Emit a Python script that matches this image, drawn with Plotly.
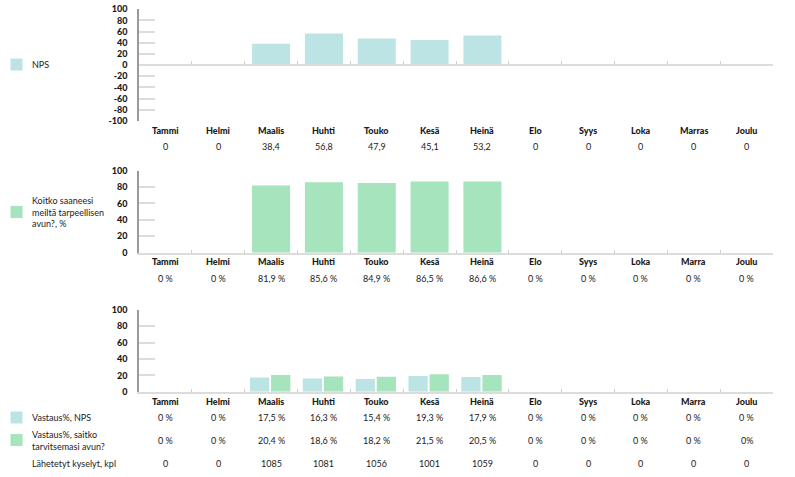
import plotly.graph_objects as go

months = ["Tammi", "Helmi", "Maalis", "Huhti", "Touko", "Kesä", "Heinä", "Elo", "Syys", "Loka", "Marras", "Joulu"]
months_short = ["Tammi", "Helmi", "Maalis", "Huhti", "Touko", "Kesä", "Heinä", "Elo", "Syys", "Loka", "Marra", "Joulu"]

nps = [0, 0, 38.4, 56.8, 47.9, 45.1, 53.2, 0, 0, 0, 0, 0]
help_pct = [0, 0, 81.9, 85.6, 84.9, 86.5, 86.6, 0, 0, 0, 0, 0]
resp_nps = [0, 0, 17.5, 16.3, 15.4, 19.3, 17.9, 0, 0, 0, 0, 0]
resp_help = [0, 0, 20.4, 18.6, 18.2, 21.5, 20.5, 0, 0, 0, 0, 0]
sent = [0, 0, 1085, 1081, 1056, 1001, 1059, 0, 0, 0, 0, 0]

nps_ticks = [100, 80, 60, 40, 20, 0, -20, -40, -60, -80, -100]
nps_tick_labels = ["100", "80", "60", "40", "20", "0", "-20", "-40", "-60", "-80", "-100"]

TEAL = "#bde4e4"
GREEN = "#a5e4bc"
FONT = "Lato"
W, H = 795, 477


def num(v):
    s = ("%.1f" % v).replace(".", ",")
    return "0" if v == 0 else s


def pct(v):
    return num(v) + " %"


nps_labels = [num(v) for v in nps]
help_labels = [pct(v) for v in help_pct]
resp_nps_labels = [pct(v) for v in resp_nps]
resp_help_labels = [pct(v) for v in resp_help]
resp_help_labels[-1] = "0%"
sent_labels = [str(v) for v in sent]


def py(px):
    return 1 - px / H


XD = [139 / W, 773 / W]
doms = {
    1: [py(121), py(9.3)],
    2: [py(252.7), py(170.5)],
    3: [py(391.7), py(310)],
}

fig = go.Figure()

fig.add_trace(go.Bar(x=months, y=nps, marker_color=TEAL, width=0.72,
                     marker_line_width=0, xaxis="x", yaxis="y", showlegend=False, hoverinfo="skip"))
fig.add_trace(go.Bar(x=months, y=help_pct, marker_color=GREEN, width=0.72,
                     marker_line_width=0, xaxis="x2", yaxis="y2", showlegend=False, hoverinfo="skip"))
fig.add_trace(go.Bar(x=months, y=resp_nps, marker_color=TEAL, width=0.365, offset=-0.40,
                     marker_line_width=0, xaxis="x3", yaxis="y3", showlegend=False, hoverinfo="skip"))
fig.add_trace(go.Bar(x=months, y=resp_help, marker_color=GREEN, width=0.365, offset=0.0,
                     marker_line_width=0, xaxis="x3", yaxis="y3", showlegend=False, hoverinfo="skip"))

yfont = dict(family=FONT, size=9, color="#1a1a1a", weight=900)
common_y = dict(showgrid=False, zeroline=False, showline=True, linecolor="#9a9a9a", linewidth=1.5,
                ticks="inside", ticklen=16, tickcolor="#dcdcdc", tickwidth=1.5,
                tickfont=yfont, fixedrange=True, automargin=False, ticklabelstandoff=8)

fig.update_layout(
    width=W, height=H, margin=dict(l=0, r=0, t=0, b=0, pad=0),
    paper_bgcolor="white", plot_bgcolor="white", barmode="overlay",
    font=dict(family=FONT, size=9, color="#222"),
    yaxis=dict(domain=doms[1], range=[-100, 100], tickmode="array", tickvals=nps_ticks,
               ticktext=nps_tick_labels, **common_y),
    yaxis2=dict(domain=doms[2], range=[0, 100], dtick=20, anchor="x2", **common_y),
    yaxis3=dict(domain=doms[3], range=[0, 100], dtick=20, anchor="x3", **common_y),
)

zero1 = doms[1][0] + (doms[1][1] - doms[1][0]) / 2
common_x = dict(domain=XD, type="category", categoryorder="array", categoryarray=months,
                range=[-0.5, 11.5], showgrid=False, zeroline=False, showline=True,
                linecolor="#dcdcdc", linewidth=1.5, ticks="inside", ticklen=3,
                tickcolor="#cfcfcf", tickson="boundaries", showticklabels=False, fixedrange=True,
                automargin=False)
fig.update_layout(
    xaxis=dict(anchor="free", position=zero1, **common_x),
    xaxis2=dict(anchor="y2", **common_x),
    xaxis3=dict(anchor="y3", **common_x),
)

anns = []


def row(xref, labels, ypx, bold=False, size=9):
    for m, t in zip(months, labels):
        anns.append(dict(x=m, xref=xref, y=py(ypx), yref="paper", text=t,
                         showarrow=False, xanchor="center", yanchor="middle",
                         font=dict(family=FONT, size=size, color="#1a1a1a",
                                   weight=900 if bold else "normal")))


row("x", months, 130, bold=True)
row("x", nps_labels, 146)
row("x2", months_short, 261.7, bold=True)
row("x2", help_labels, 278)
row("x3", months_short, 401, bold=True)
row("x3", resp_nps_labels, 417)
row("x3", resp_help_labels, 440)
row("x3", sent_labels, 463)


def legend_item(ypx, color, text):
    if color:
        fig.add_shape(type="rect", xref="paper", yref="paper",
                      x0=10.5 / W, x1=22.5 / W, y0=py(ypx + 6), y1=py(ypx - 6),
                      fillcolor=color, line_width=0)
    anns.append(dict(x=30 / W, xref="paper", y=py(ypx), yref="paper", text=text, showarrow=False,
                     xanchor="left", yanchor="middle", align="left",
                     font=dict(family=FONT, size=9, color="#222")))


legend_item(64.5, TEAL, "NPS")
legend_item(212, GREEN, "Koitko saaneesi<br>meiltä tarpeellisen<br>avun?, %")
legend_item(417.5, TEAL, "Vastaus%, NPS")
legend_item(440, GREEN, "Vastaus%, saitko<br>tarvitsemasi avun?")
legend_item(463, None, "Lähetetyt kyselyt, kpl")

fig.update_layout(annotations=anns)
fig.write_html("out.html", config={"displayModeBar": False},
               post_script="document.body.style.margin='0';document.body.style.overflow='hidden';")
